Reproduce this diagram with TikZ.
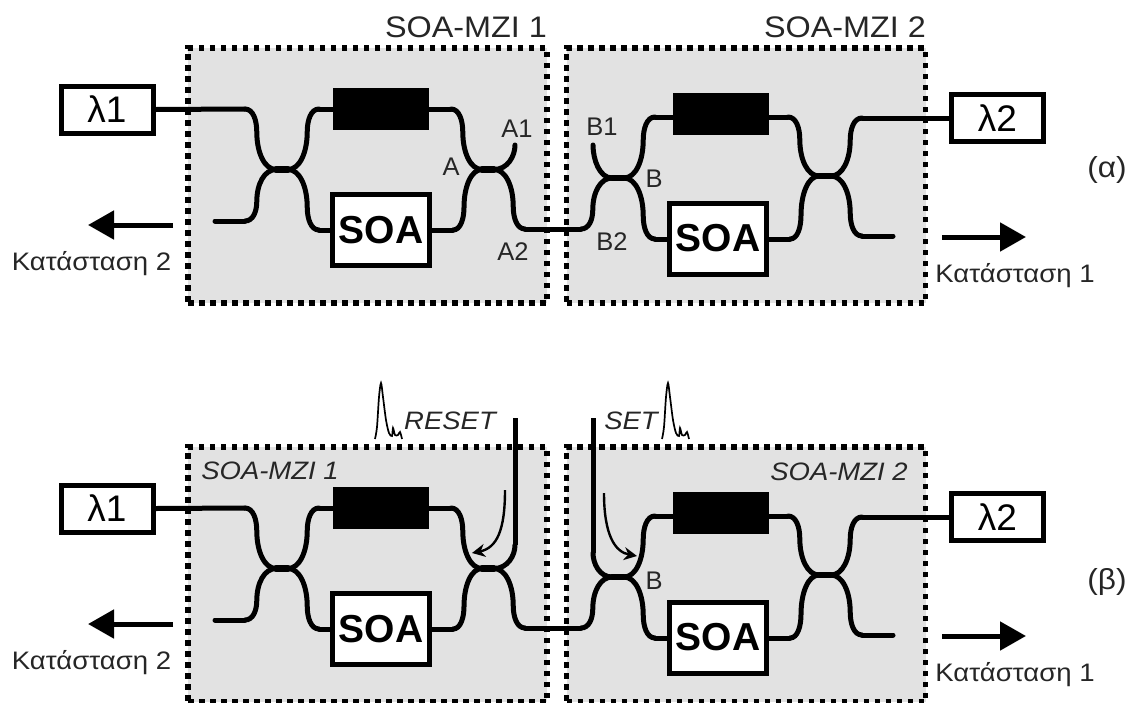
\documentclass[tikz,border=0pt]{standalone}
\usepackage{fontspec}
\setmainfont[FakeStretch=1.09]{Liberation Sans}
\newfontfamily\plainfont{Liberation Sans}
\usetikzlibrary{arrows.meta,positioning,calc}
\definecolor{cBox}{RGB}{226,226,226}
\newcommand{\fsz}[1]{\fontsize{#1}{#1}\selectfont}
\tikzset{
  mzibox/.style={draw,fill=cBox,line width=5.5pt,dash pattern=on 5.5pt off 5.5pt,
                 minimum width=359pt,minimum height=255pt,inner sep=0pt},
  srcbox/.style={draw,fill=white,line width=5pt,minimum width=92pt,minimum height=47pt,
                 inner sep=0pt,font=\plainfont\fsz{37}},
  soabox/.style={draw,fill=white,line width=5pt,minimum width=97pt,minimum height=71pt,
                 inner sep=0pt,font=\plainfont\fsz{39}\bfseries},
  delay/.style={draw,fill=black,minimum width=95pt,minimum height=41pt,inner sep=0pt},
  wg/.style={line width=5pt,line cap=round,black},    % waveguide
  outarrow/.style={line width=5pt,-{Triangle[length=26pt,width=28pt]}},
  flowarrow/.style={line width=2.4pt,-{Stealth[length=13pt,width=13pt]}},
  pulse/.style={line width=1.7pt},
  port/.style={inner sep=0pt,font=\plainfont\fsz{25.5},text=black!85},
  state/.style={inner sep=0pt,anchor=base,font=\fsz{25.3},text=black!85},
  title/.style={inner sep=0pt,anchor=base,font=\fsz{29.7},text=black!85},
  ititle/.style={inner sep=0pt,font=\fsz{25.2}\itshape,text=black!85},
  panel/.style={inner sep=0pt,font=\fsz{29},text=black!85},
}
% s-bend: #1 outer end #2 coupler end, flat at both ends
\newcommand{\wgbend}[2]{%
  \coordinate (m) at ($(#1)!.38!(#2)$);
  \draw[wg] (#1) .. controls ($(#1)!.7!(#1-|m)$) and ($(m)!.5!(#1-|m)$) .. (m)
                 .. controls ($(m)!.55!(#2-|m)$) and ($(#2)!.6!(#2-|m)$) .. (#2);}
% quarter curve: #1 flat end of the coupler #2 vertical end
\newcommand{\wgcurl}[2]{%
  \draw[wg] (#1) .. controls ($(#1)!.65!(#1-|#2)$) and ($(#2)!.45!(#1-|#2)$) .. (#2);}
% small optical pulse, #1 is its lower left foot
\newcommand{\pulseat}[1]{%
  \draw[pulse,shift={(#1)}] plot[smooth,tension=.5] coordinates
    {(0,0) (2,-12) (4,-42) (6,-56) (8,-42) (11,-19) (14,-6) (17,-3) (18,-11) (20,-4) (23,-4) (25,-7) (27,0)};}
\begin{document}
\begin{tikzpicture}[x=1pt,y=-1pt]
  \useasboundingbox (0,0) rectangle (1132,702);

  % ---- both panels are the same circuit ----
  \foreach \p/\dy in {t/0,b/399}{
  \begin{scope}[yshift=-\dy pt]
    \node[mzibox] (\p mzi1) at (367.5,175.5) {};
    \node[mzibox] (\p mzi2) at (746,175.5) {};

    \node[srcbox] (\p lam1) at (107,109.5) {λ1};
    \node[srcbox] (\p lam2) at (997.5,118) {λ2};
    \node[delay]  (\p del1) at (380.5,108.5) {};
    \node[delay]  (\p del2) at (720.5,113.5) {};
    \node[soabox] (\p soa1) at (381,230) {SOA};
    \node[soabox] (\p soa2) at (718,238.5) {SOA};

    % couplers
    \coordinate (\p c1l) at (276,169.5);  \coordinate (\p c1r) at (288,169.5);
    \coordinate (\p c2l) at (482,169.5);  \coordinate (\p c2r) at (494,169.5);
    \coordinate (\p c3l) at (612,178);    \coordinate (\p c3r) at (624,178);
    \coordinate (\p c4l) at (819,176);    \coordinate (\p c4r) at (831,176);
    \foreach \c in {c1,c2,c3,c4}{\draw[wg,line width=6.5pt] (\p\c l)--(\p\c r);}

    % ---- first interferometer ----
    \coordinate (\p n1) at (245,109);  \coordinate (\p n2) at (245,221);
    \coordinate (\p n3) at (319,109);  \coordinate (\p n4) at (319,230);
    \coordinate (\p n5) at (451,109);  \coordinate (\p n6) at (453,230);
    \coordinate (\p n7) at (525,229);  \coordinate (\p in1) at (215,221);
    \draw[wg] (\p lam1.east)--(\p n1);
    \draw[wg] (\p in1)--(\p n2);
    \wgbend{\p n1}{\p c1l}
    \wgbend{\p n2}{\p c1l}
    \wgbend{\p n3}{\p c1r}
    \wgbend{\p n4}{\p c1r}
    \draw[wg] (\p n3)--(\p n3-|\p del1.west);
    \draw[wg] (\p n4)--(\p n4-|\p soa1.west);
    \draw[wg] (\p n5-|\p del1.east)--(\p n5);
    \draw[wg] (\p n6-|\p soa1.east)--(\p n6);
    \wgbend{\p n5}{\p c2l}
    \wgbend{\p n6}{\p c2l}
    \wgbend{\p n7}{\p c2r}

    % ---- second interferometer ----
    \coordinate (\p n8) at (581,229);  \coordinate (\p n9) at (655,117);
    \coordinate (\p n10) at (655,239); \coordinate (\p n11) at (788,117);
    \coordinate (\p n12) at (790,239); \coordinate (\p n13) at (862,118);
    \coordinate (\p n14) at (862,236); \coordinate (\p in2) at (893,236);
    \draw[wg] (\p n7)--(\p n8);
    \wgbend{\p n8}{\p c3l}
    \wgbend{\p n9}{\p c3r}
    \wgbend{\p n10}{\p c3r}
    \draw[wg] (\p n9)--(\p n9-|\p del2.west);
    \draw[wg] (\p n10)--(\p n10-|\p soa2.west);
    \draw[wg] (\p n11-|\p del2.east)--(\p n11);
    \draw[wg] (\p n12-|\p soa2.east)--(\p n12);
    \wgbend{\p n11}{\p c4l}
    \wgbend{\p n12}{\p c4l}
    \wgbend{\p n13}{\p c4r}
    \wgbend{\p n14}{\p c4r}
    \draw[wg] (\p n13)--(\p lam2.west);
    \draw[wg] (\p n14)--(\p in2);

    % ---- outputs ----
    \coordinate (\p o2a) at (173,225);  \coordinate (\p o2b) at (88,225);
    \coordinate (\p o1a) at (942,237);  \coordinate (\p o1b) at (1026,237);
    \draw[outarrow] (\p o2a)--(\p o2b);
    \draw[outarrow] (\p o1a)--(\p o1b);
    \node[state] (\p st2) at (91.5,270.5) {Κατάσταση 2};
    \node[state] (\p st1) at (1015,282.5) {Κατάσταση 1};
  \end{scope}
  }

  % ---- panel (a): open ports and labels ----
  \coordinate (ta1) at (515,145);
  \coordinate (tb1) at (593,145);
  \wgcurl{tc2r}{ta1}
  \wgcurl{tc3l}{tb1}
  \node[title] (tt1) at (466,37) {SOA-MZI 1};
  \node[title] (tt2) at (845,37) {SOA-MZI 2};
  \node[port] (la1) at (517,129) {A1};
  \node[port] (la)  at (451,167) {A};
  \node[port] (la2) at (513,252) {A2};
  \node[port] (lb1) at (602,127) {B1};
  \node[port] (lb)  at (654,179) {B};
  \node[port] (lb2) at (612,242) {B2};
  \node[panel] (pa) at (1107,170) {(α)};

  % ---- panel (b): control inputs ----
  \coordinate (ba1) at (515,545);  \coordinate (ba2) at (515,418);
  \coordinate (bb1) at (593,553);  \coordinate (bb2) at (593,418);
  \wgcurl{bc2r}{ba1}
  \wgcurl{bc3l}{bb1}
  \draw[wg,line cap=butt] (ba1)--(ba2);
  \draw[wg,line cap=butt] (bb1)--(bb2);
  \node[ititle] (bt1) at (270,471) {SOA-MZI 1};
  \node[ititle] (bt2) at (839,472) {SOA-MZI 2};
  \node[ititle] (rst) at (450,421) {RESET};
  \node[ititle] (set) at (631,421) {SET};
  \node[port] (blb) at (654,581) {B};
  \node[panel] (pb) at (1107,582) {(β)};
  \coordinate (p1) at (375,439);
  \coordinate (p2) at (662,439);
  \pulseat{p1}
  \pulseat{p2}
  \coordinate (f1a) at (505,490);  \coordinate (f1b) at (472,553);
  \coordinate (f2a) at (604,493);  \coordinate (f2b) at (637,556);
  \draw[flowarrow] (f1a) .. controls (505,530) and (497,548) .. (f1b);
  \draw[flowarrow] (f2a) .. controls (604,535) and (615,552) .. (f2b);
\end{tikzpicture}
\end{document}
